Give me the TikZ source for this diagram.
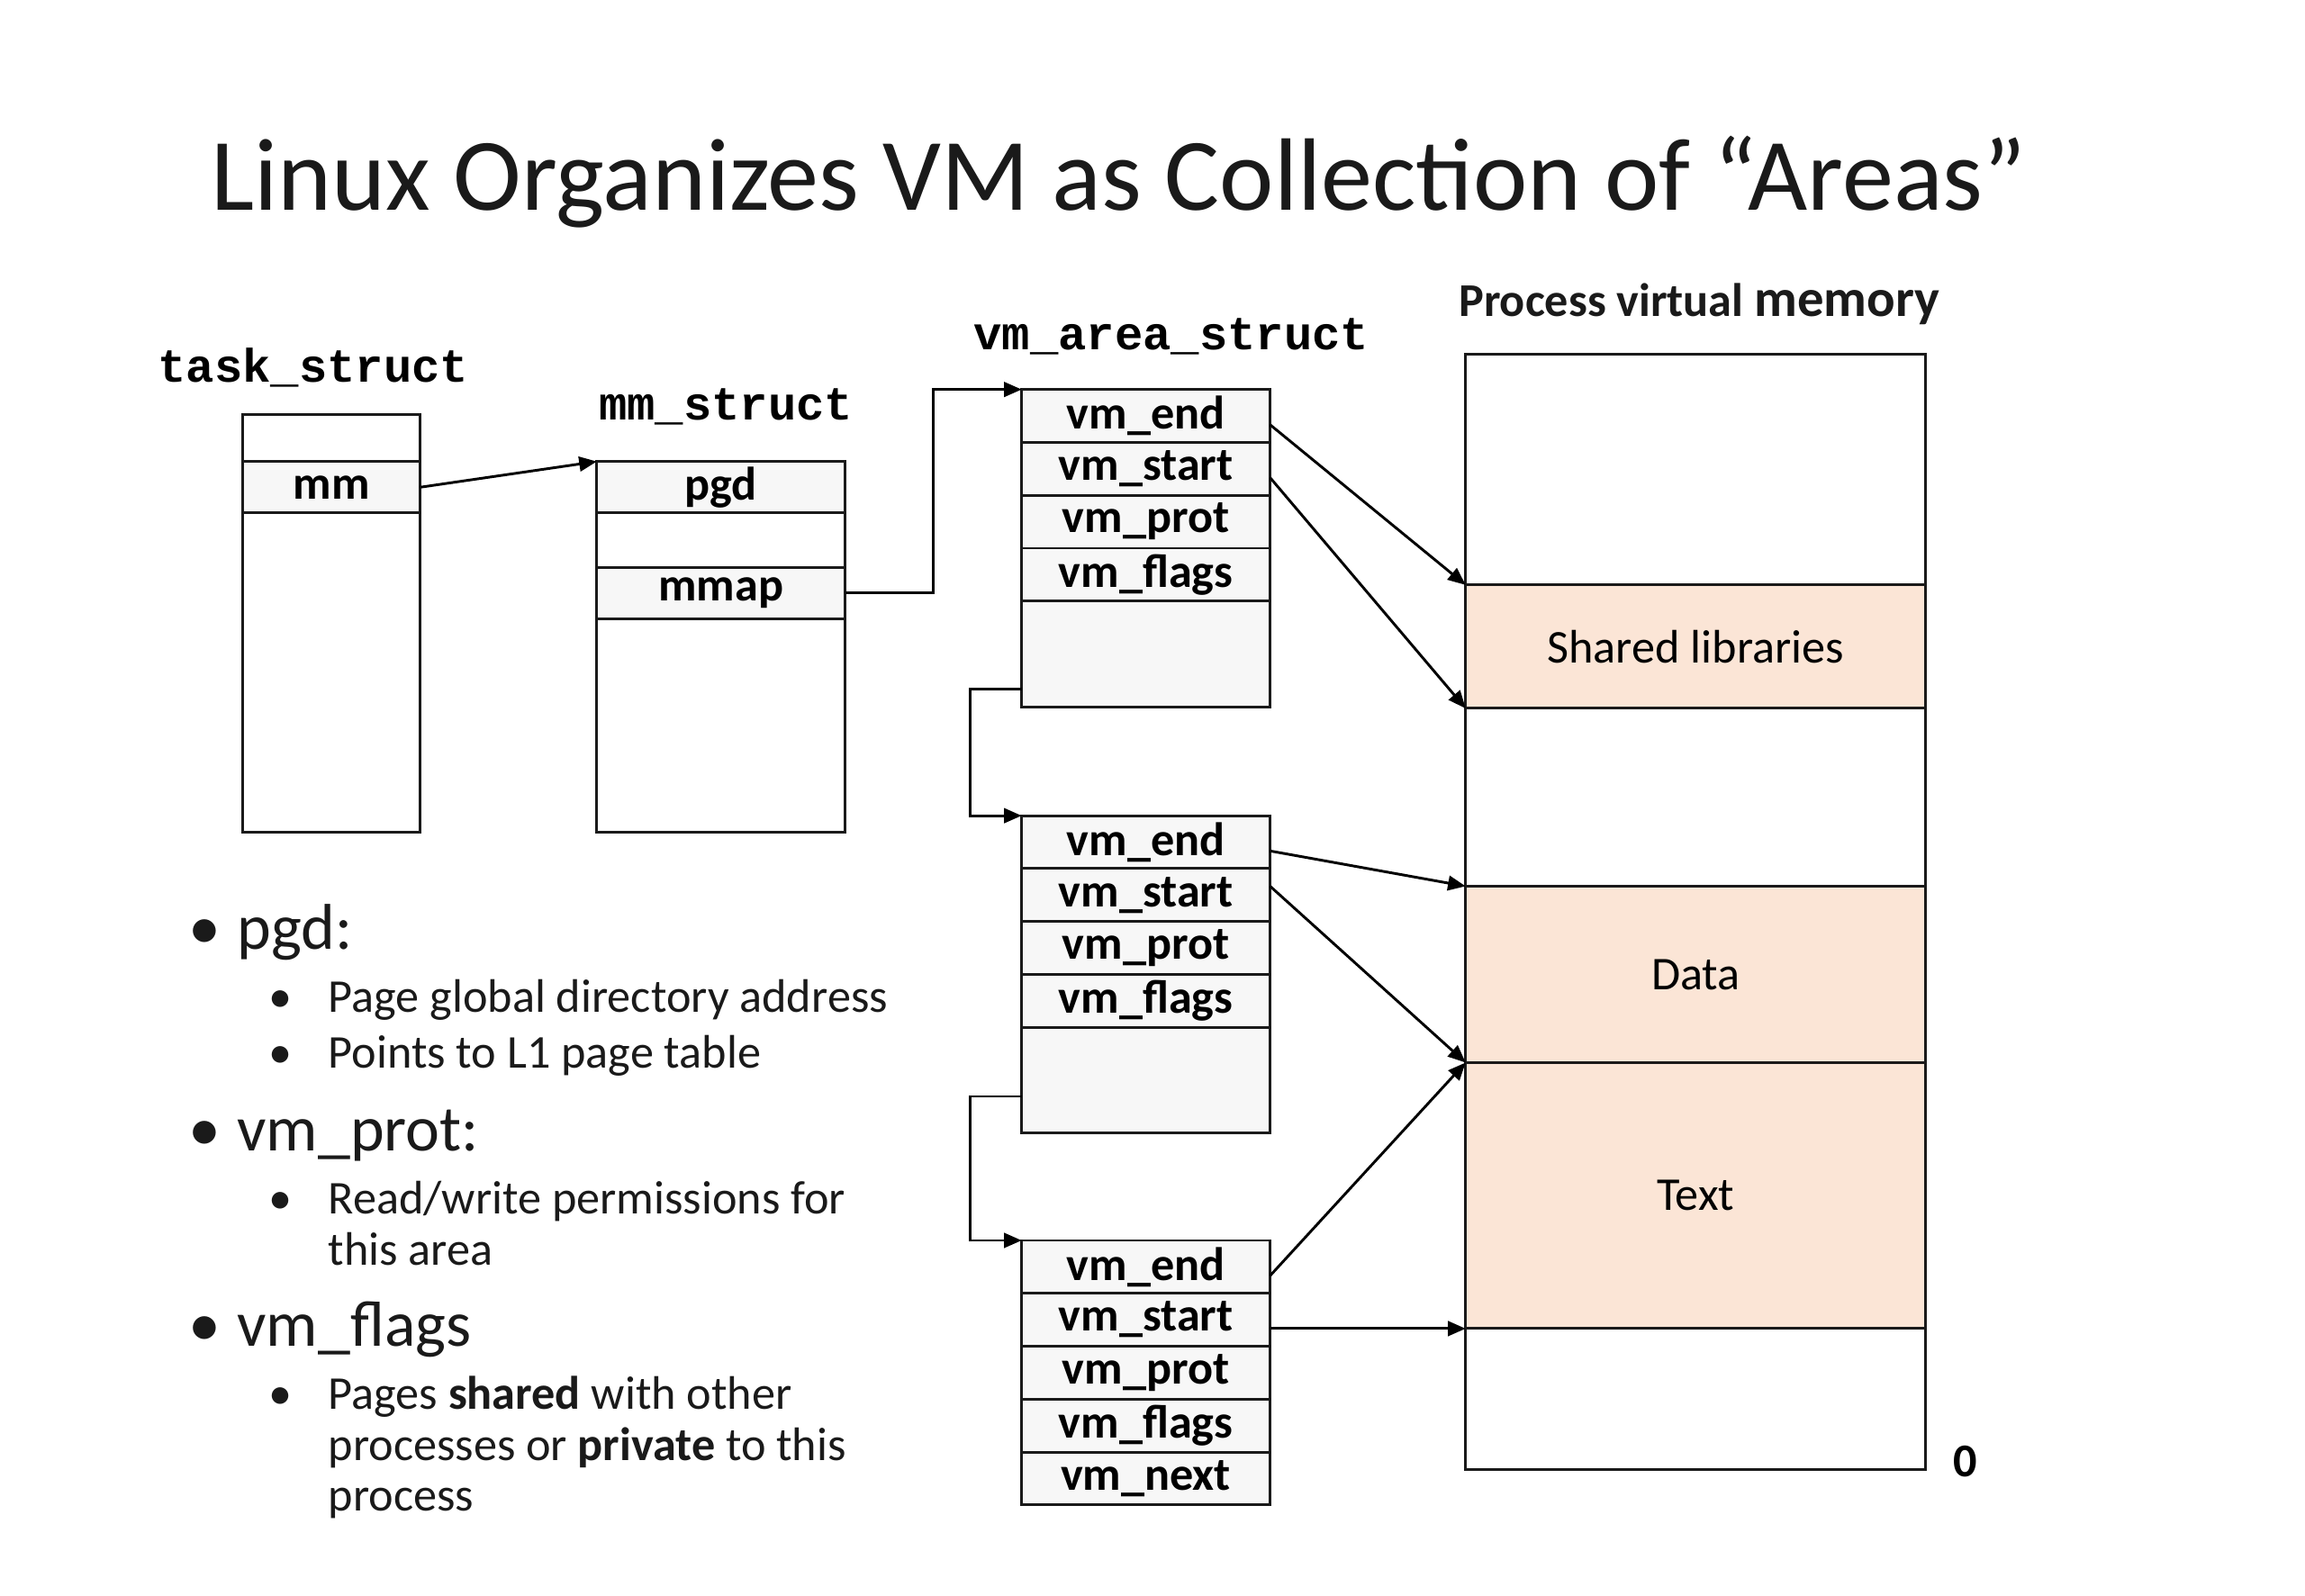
\documentclass[tikz,border=0pt]{standalone}
\usepackage{fontspec}
\setmainfont{Carlito}
\newfontfamily\monofont{Liberation Mono}
\usetikzlibrary{arrows.meta,calc}
\definecolor{cellgray}{HTML}{F7F7F7}
\definecolor{areafill}{HTML}{FBE5D6}
\definecolor{inkcol}{HTML}{1A1A1A}
\tikzset{
  cell/.style={draw=inkcol, line width=0.9pt, fill=cellgray, inner sep=0pt, outer sep=0pt,
    font=\fontsize{16}{19}\selectfont\bfseries, text=black},
  blankcell/.style={cell, fill=white},
  tsw/.style={minimum width=60.5pt},
  mmw/.style={minimum width=84.5pt},
  vmw/.style={minimum width=84.5pt, minimum height=18pt},
  memcell/.style={draw=inkcol, line width=0.9pt, fill=white, inner sep=0pt, outer sep=0pt,
    minimum width=156.5pt, font=\fontsize{16}{19}\selectfont, text=black},
  areacell/.style={memcell, fill=areafill},
  structlabel/.style={anchor=base west, inner sep=0pt, font=\monofont\bfseries\fontsize{16}{19}\selectfont},
  conn/.style={draw=black, line width=0.9pt, -{Triangle[length=6pt,width=5pt]}},
  mainb/.style={anchor=base west, inner sep=0pt, font=\fontsize{22}{26}\selectfont, text=inkcol},
  subb/.style={anchor=base west, inner sep=0pt, font=\fontsize{16}{19}\selectfont, text=inkcol},
  dotmain/.style={anchor=base, inner sep=0pt, font=\fontsize{22}{26}\selectfont, text=inkcol},
  dotsub/.style={anchor=base, inner sep=0pt, font=\fontsize{16}{19}\selectfont, text=inkcol}
}
\begin{document}
\begin{tikzpicture}[x=0.5pt,y=-0.5pt]
\fill[white] (0,0) rectangle (1568,1085.35);
\useasboundingbox (0,0) rectangle (1568,1085.35);

% Title
\node[anchor=base, inner sep=0pt, font=\fontsize{35}{42}\selectfont, text=inkcol] (title) at (761,143) {Linux Organizes VM as Collection of “Areas”};

% task_struct
\node[structlabel] (tslabel) at (107,260) {task\_struct};
\node[blankcell, tsw, minimum height=16pt] (ts0) at (225.5,298) {};
\node[cell, tsw, minimum height=17.5pt] (tsmm) at (225.5,331.5) {mm};
\node[blankcell, tsw, minimum height=108.5pt] (ts2) at (225.5,457.5) {};

% mm_struct
\node[structlabel] (mmlabel) at (407,286) {mm\_struct};
\node[cell, mmw, minimum height=17.5pt] (pgd) at (490.5,331.5) {pgd};
\node[blankcell, mmw, minimum height=18.5pt] (mm1) at (490.5,367.5) {};
\node[cell, mmw, minimum height=17.5pt] (mmap) at (490.5,403.5) {mmap};
\node[blankcell, mmw, minimum height=72.5pt] (mm3) at (490.5,493.5) {};

% vm_area_struct label
\node[structlabel] (vmlabel) at (662,238) {vm\_area\_struct};

% area 1
\node[cell, vmw] (aend) at (779.5,283) {vm\_end};
\node[cell, vmw] (astart) at (779.5,319) {vm\_start};
\node[cell, vmw] (aprot) at (779.5,355) {vm\_prot};
\node[cell, vmw] (aflags) at (779.5,391) {vm\_flags};
\node[cell, vmw, minimum height=36pt] (ablank) at (779.5,445) {};

% area 2
\node[cell, vmw] (bend) at (779.5,573) {vm\_end};
\node[cell, vmw] (bstart) at (779.5,609) {vm\_start};
\node[cell, vmw] (bprot) at (779.5,645) {vm\_prot};
\node[cell, vmw] (bflags) at (779.5,681) {vm\_flags};
\node[cell, vmw, minimum height=36pt] (bblank) at (779.5,735) {};

% area 3
\node[cell, vmw] (cend) at (779.5,862) {vm\_end};
\node[cell, vmw] (cstart) at (779.5,898) {vm\_start};
\node[cell, vmw] (cprot) at (779.5,934) {vm\_prot};
\node[cell, vmw] (cflags) at (779.5,970) {vm\_flags};
\node[cell, vmw] (cnext) at (779.5,1006) {vm\_next};

% Process virtual memory
\node[anchor=base west, inner sep=0pt, font=\bfseries, text=inkcol] (pvmlabel) at (992,215)
  {\fontsize{16}{19}\selectfont Process virtual \fontsize{18}{21}\selectfont memory};
\node[memcell, minimum height=78.5pt] (memtop) at (1153.5,319.5) {};
\node[areacell, minimum height=42pt] (shlib) at (1153.5,440) {Shared libraries};
\node[memcell, minimum height=60.5pt] (memgap) at (1153.5,542.5) {};
\node[areacell, minimum height=60pt] (data) at (1153.5,663) {Data};
\node[areacell, minimum height=90.5pt] (textseg) at (1153.5,813.5) {Text};
\node[memcell, minimum height=48pt] (membot) at (1153.5,952) {};
\node[anchor=base, inner sep=0pt, font=\bfseries\fontsize{16}{19}\selectfont] (zero) at (1337,1005) {0};

% connectors
\draw[conn] (tsmm.east) -- (pgd.north west);
\draw[conn] (mmap.east) -- ++(60,0) |- (aend.north west);
\draw[conn] ([yshift=6pt]ablank.south west) -- ++(-35,0) |- (bend.north west);
\draw[conn] ([yshift=12.5pt]bblank.south west) -- ++(-35,0) |- (cend.north west);

\draw[conn] ([yshift=-3pt]aend.east) -- (shlib.north west);
\draw[conn] ([yshift=-3pt]astart.east) -- (shlib.south west);
\draw[conn] ([yshift=-3pt]bend.east) -- (data.north west);
\draw[conn] ([yshift=3pt]bstart.east) -- (data.south west);
\draw[conn] ([yshift=-3pt]cend.east) -- (textseg.north west);
\draw[conn] ([yshift=-3pt]cstart.east) -- (textseg.south west);

% bullets
\node[dotmain] (d1) at (139,646) {•};
\node[mainb] (b1) at (161,646) {pgd:};
\node[dotsub] (d11) at (191,689) {•};
\node[subb] (b11) at (223,689) {Page global directory address};
\node[dotsub] (d12) at (191,727) {•};
\node[subb] (b12) at (223,727) {Points to L1 page table};

\node[dotmain] (d2) at (139,783) {•};
\node[mainb] (b2) at (161,783) {vm\_prot:};
\node[dotsub] (d21) at (191,826) {•};
\node[subb] (b21) at (223,826) {Read/write permissions for};
\node[subb] (b21b) at (223,861) {this area};

\node[dotmain] (d3) at (139,916) {•};
\node[mainb] (b3) at (161,916) {vm\_flags};
\node[dotsub] (d31) at (191,959) {•};
\node[subb] (b31) at (223,959) {Pages \textbf{shared} with other};
\node[subb] (b31b) at (223,994) {processes or \textbf{private} to this};
\node[subb] (b31c) at (223,1028) {process};
\end{tikzpicture}
\end{document}
